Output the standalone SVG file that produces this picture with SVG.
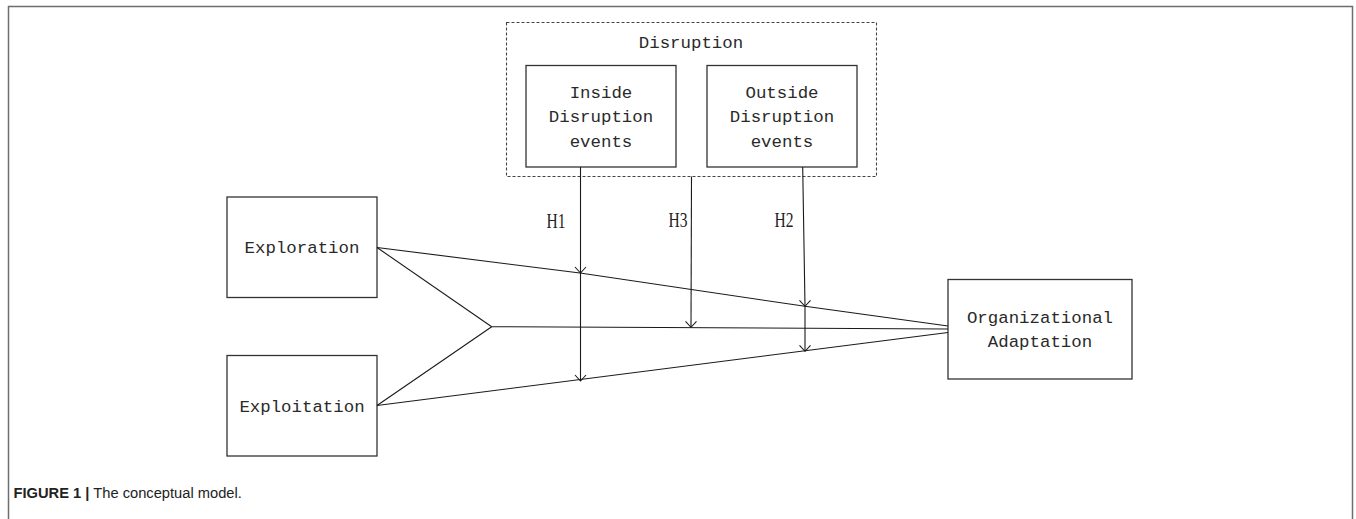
<svg xmlns="http://www.w3.org/2000/svg" width="1356" height="519" viewBox="0 0 1356 519">
<defs>
<style>
.frame{fill:none;stroke:#6e6e6e;stroke-width:1.5}
.box{fill:#fff;stroke:#333;stroke-width:1.3}
.dash{fill:none;stroke:#444;stroke-width:1.1;stroke-dasharray:3,2}
.ln{fill:none;stroke:#1a1a1a;stroke-width:1.1}
.ah{fill:none;stroke:#1a1a1a;stroke-width:1.1}
.t{font-family:"Liberation Mono","DejaVu Sans Mono",monospace;font-size:17.4px;fill:#2a2a2a;text-anchor:middle}
.h{font-family:"Liberation Serif","DejaVu Serif",serif;font-size:21px;fill:#222;text-anchor:middle}
.cap{font-family:"Liberation Sans",Arial,sans-serif;font-size:14.7px;fill:#222}
</style>
</defs>
<rect x="0" y="0" width="1356" height="519" fill="#fff"/>
<path class="frame" d="M8.5,520 V6.5 H1352.5 V520"/>

<g id="disruption">
<rect class="dash" x="506.5" y="22.5" width="370" height="154"/>
<text class="t" x="691" y="48">Disruption</text>
</g>
<g id="inside">
<rect class="box" x="526" y="65.5" width="150" height="101.5"/>
<text class="t" x="601" y="98">Inside</text>
<text class="t" x="601" y="122">Disruption</text>
<text class="t" x="601" y="146.5">events</text>
</g>
<g id="outside">
<rect class="box" x="707" y="65.5" width="150" height="101.5"/>
<text class="t" x="782" y="98">Outside</text>
<text class="t" x="782" y="122">Disruption</text>
<text class="t" x="782" y="146.5">events</text>
</g>
<g id="exploration">
<rect class="box" x="227" y="197" width="150" height="100.5"/>
<text class="t" x="302" y="253">Exploration</text>
</g>
<g id="exploitation">
<rect class="box" x="227" y="355.5" width="150" height="100.5"/>
<text class="t" x="302" y="411.5">Exploitation</text>
</g>
<g id="adaptation">
<rect class="box" x="948" y="279.5" width="184" height="99.5"/>
<text class="t" x="1040" y="323">Organizational</text>
<text class="t" x="1040" y="347">Adaptation</text>
</g>

<g id="connectors">
<polyline class="ln" points="377,247.5 580,273 805,306.3 948,326"/>
<line class="ln" x1="377" y1="247.5" x2="491.7" y2="326.7"/>
<line class="ln" x1="377" y1="405.5" x2="491.7" y2="326.7"/>
<line class="ln" x1="491.7" y1="326.7" x2="948" y2="329"/>
<line class="ln" x1="377" y1="405.5" x2="948" y2="332.5"/>
<line class="ln" x1="580.5" y1="167" x2="580.5" y2="381"/>
<polyline class="ah" points="575,267 580.5,273 586,267"/>
<polyline class="ah" points="575,375 580.5,381 586,375"/>
<line class="ln" x1="691.5" y1="176.5" x2="691" y2="327.3"/>
<polyline class="ah" points="685.5,321.3 691,327.3 696.5,321.3"/>
<polyline class="ln" points="802.7,167 805,306.3 805,351.3"/>
<polyline class="ah" points="799.5,300.3 805,306.3 810.5,300.3"/>
<polyline class="ah" points="799.5,345.3 805,351.3 810.5,345.3"/>
<text class="h" x="556" y="228" textLength="19" lengthAdjust="spacingAndGlyphs">H1</text>
<text class="h" x="678" y="227" textLength="19" lengthAdjust="spacingAndGlyphs">H3</text>
<text class="h" x="784" y="227" textLength="19" lengthAdjust="spacingAndGlyphs">H2</text>
</g>

<text class="cap" x="13.5" y="497.5"><tspan font-weight="bold">FIGURE 1</tspan> <tspan font-weight="bold">|</tspan> The conceptual model.</text>
</svg>
